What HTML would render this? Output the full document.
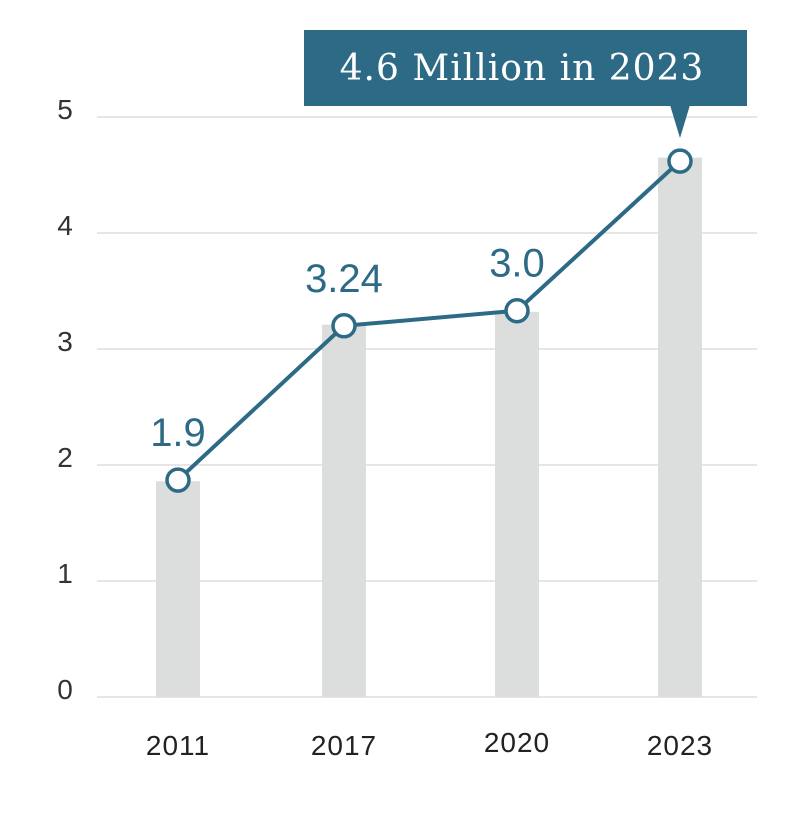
<!DOCTYPE html>
<html><head><meta charset="utf-8"><style>
html,body{margin:0;padding:0;background:#fff;}
svg{display:block;}
</style></head><body>
<svg id="chart" width="792" height="832" viewBox="0 0 792 832" xmlns="http://www.w3.org/2000/svg">
<g id="grid"></g>
<g id="yaxis"></g>
<g id="bars"></g>
<g id="xaxis"></g>
<g id="line"></g>
<g id="labels"></g>
<g>
<rect x="304" y="30" width="443" height="76" fill="#2d6a85"/>
<polygon points="670,105 690,105 680,138" fill="#2d6a85"/>
<text x="522" y="80" text-anchor="middle" fill="#fff" font-family="'DejaVu Serif','Liberation Serif',serif" font-size="36" letter-spacing="1">4.6 Million in 2023</text>
</g>
</svg>
<script>
const categories = ["2011","2017","2020","2023"];
const barValues = [1.86, 3.21, 3.32, 4.65];
const lineValues = [1.87, 3.2, 3.33, 4.62];
const valueLabels = ["1.9","3.24","3.0",""];
const yTicks = [0,1,2,3,4,5];

const NS="http://www.w3.org/2000/svg";
const x0=97,x1=757,yBase=697,unit=116;
const centers=[178,344,517,680];
function xPos(i){return centers[i];}
function yPos(v){return yBase-v*unit;}
function mk(tag,attrs,parent){const e=document.createElementNS(NS,tag);for(const k in attrs)e.setAttribute(k,attrs[k]);parent.appendChild(e);return e;}

const grid=document.getElementById('grid'),yaxis=document.getElementById('yaxis');
yTicks.forEach(t=>{
  const l=mk('line',{x1:x0,x2:x1,y1:yPos(t),y2:yPos(t),stroke:'#dddddd','stroke-width':1.5},grid);
  
  
  const tx=mk('text',{x:65,y:yPos(t)+2,'text-anchor':'middle','font-family':'Liberation Sans, sans-serif','font-size':28,fill:'#333'},yaxis);
  tx.textContent=t;
  
  
});
const bars=document.getElementById('bars'),xaxis=document.getElementById('xaxis');
categories.forEach((c,i)=>{
  const r=mk('rect',{x:xPos(i)-22,y:yPos(barValues[i]),width:44,height:yBase-yPos(barValues[i]),fill:'#dcdddd'},bars);
  
  
  const tx=mk('text',{x:xPos(i),y:i==2?752:755,'text-anchor':'middle','font-family':'Liberation Sans, sans-serif','font-size':28,fill:'#222','letter-spacing':1},xaxis);
  tx.textContent=c;
  
  
});
const line=document.getElementById('line');
const pts=lineValues.map((v,i)=>xPos(i)+','+yPos(v)).join(' ');
const pl=mk('polyline',{points:pts,fill:'none',stroke:'#2d6a85','stroke-width':4},line);


const labels=document.getElementById('labels');
lineValues.forEach((v,i)=>{
  const c=mk('circle',{cx:xPos(i),cy:yPos(v),r:11,fill:'#fff',stroke:'#2d6a85','stroke-width':3.5},line);
  
  
  if(valueLabels[i]){
    const tx=mk('text',{x:xPos(i),y:yPos(v)-34,'text-anchor':'middle','font-family':'Liberation Sans, sans-serif','font-size':40,fill:'#2d6a85'},labels);
    tx.textContent=valueLabels[i];
    
    
  }
});
</script>
</body></html>
